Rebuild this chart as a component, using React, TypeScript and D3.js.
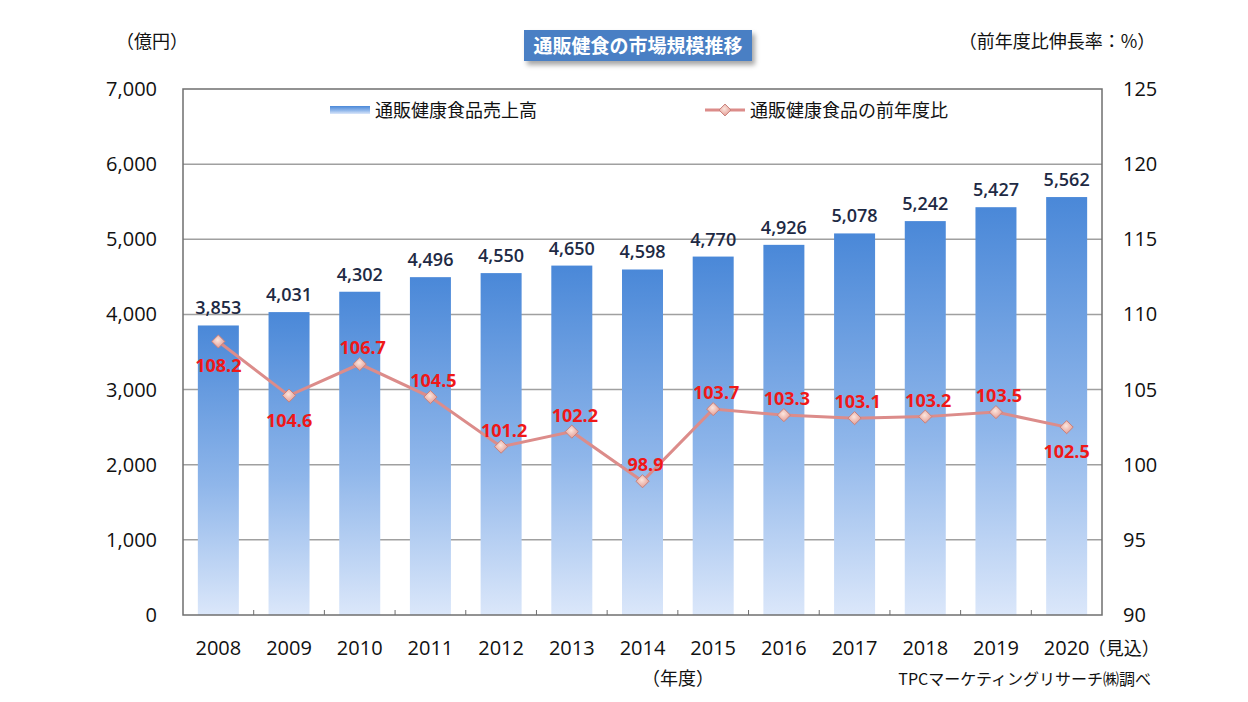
import React, { useEffect, useRef } from "react";
import * as d3 from "d3";

const years = ["2008", "2009", "2010", "2011", "2012", "2013", "2014", "2015", "2016", "2017", "2018", "2019", "2020"];
const sales = [3853, 4031, 4302, 4496, 4550, 4650, 4598, 4770, 4926, 5078, 5242, 5427, 5562];
const ratio = [108.2, 104.6, 106.7, 104.5, 101.2, 102.2, 98.9, 103.7, 103.3, 103.1, 103.2, 103.5, 102.5];
// ラベルを点の下に置くか上に置くか
const ratioLabelBelow = [true, true, false, false, false, false, false, false, false, false, false, false, true];
const leftTicks = [0, 1000, 2000, 3000, 4000, 5000, 6000, 7000];
const rightTicks = [90, 95, 100, 105, 110, 115, 120, 125];

const W = 1248;
const H = 702;
const FONT = "'Open Sans', 'Noto Sans CJK JP', sans-serif";
const JP = "'Noto Sans CJK JP', sans-serif";

export default function App() {
  const ref = useRef<SVGSVGElement>(null);

  useEffect(() => {
    const svg = d3.select(ref.current);
    svg.selectAll("*").remove();

    const margin = { top: 89, right: 146, bottom: 87, left: 183 };
    const x = d3.scaleBand<string>()
      .domain(years)
      .range([margin.left, W - margin.right])
      .paddingInner(0.42)
      .paddingOuter(0.21);
    const yL = d3.scaleLinear().domain([0, 7000]).range([H - margin.bottom, margin.top]);
    const yR = d3.scaleLinear().domain([90, 125]).range([H - margin.bottom, margin.top]);
    const cx = (i: number) => (x(years[i]) as number) + x.bandwidth() / 2;

    const defs = svg.append("defs");
    const grad = defs.append("linearGradient").attr("id", "barGrad").attr("x1", 0).attr("x2", 0).attr("y1", 0).attr("y2", 1);
    grad.append("stop").attr("offset", "0%").attr("stop-color", "#4a88d8");
    grad.append("stop").attr("offset", "55%").attr("stop-color", "#8fb6ea");
    grad.append("stop").attr("offset", "100%").attr("stop-color", "#dbe7fa");
    const f = defs.append("filter").attr("id", "shadow").attr("x", "-10%").attr("y", "-20%").attr("width", "130%").attr("height", "160%");
    f.append("feDropShadow").attr("dx", 3).attr("dy", 4).attr("stdDeviation", 2.5).attr("flood-color", "#000").attr("flood-opacity", 0.35);
    const mg = defs.append("radialGradient").attr("id", "markGrad").attr("cx", "45%").attr("cy", "40%").attr("r", "60%");
    mg.append("stop").attr("offset", "0%").attr("stop-color", "#fbe6de");
    mg.append("stop").attr("offset", "100%").attr("stop-color", "#e59c94");

    // グリッド線
    svg.append("g")
      .selectAll("line")
      .data(leftTicks.slice(1, -1))
      .join("line")
      .attr("x1", margin.left)
      .attr("x2", W - margin.right)
      .attr("y1", (d) => yL(d))
      .attr("y2", (d) => yL(d))
      .attr("stroke", "#a0a0a0")
      .attr("stroke-width", 1.5);

    // 棒グラフ
    svg.append("g")
      .selectAll("rect")
      .data(sales)
      .join("rect")
      .attr("x", (_, i) => x(years[i]) as number)
      .attr("y", (d) => yL(d))
      .attr("width", x.bandwidth())
      .attr("height", (d) => yL(0) - yL(d))
      .attr("fill", "url(#barGrad)");

    // 枠線
    svg.append("rect")
      .attr("x", margin.left)
      .attr("y", margin.top)
      .attr("width", W - margin.right - margin.left)
      .attr("height", H - margin.bottom - margin.top)
      .attr("fill", "none")
      .attr("stroke", "#6f6f6f")
      .attr("stroke-width", 1.5);

    // 下の目盛り
    svg.append("g")
      .selectAll("line")
      .data(years.slice(1))
      .join("line")
      .attr("x1", (d) => (x(d) as number) - (x.step() * x.paddingInner()) / 2)
      .attr("x2", (d) => (x(d) as number) - (x.step() * x.paddingInner()) / 2)
      .attr("y1", yL(0))
      .attr("y2", yL(0) - 5)
      .attr("stroke", "#6f6f6f");

    // 売上ラベル
    svg.append("g")
      .attr("font-family", FONT)
      .attr("font-size", 18)
      .attr("font-weight", 600)
      .attr("fill", "#1e2a44")
      .attr("text-anchor", "middle")
      .selectAll("text")
      .data(sales)
      .join("text")
      .attr("x", (_, i) => cx(i))
      .attr("y", (d) => yL(d) - 11)
      .text((d) => d3.format(",")(d));

    // 前年度比の折れ線
    const line = d3.line<number>().x((_, i) => cx(i)).y((d) => yR(d));
    svg.append("path")
      .datum(ratio)
      .attr("d", line)
      .attr("fill", "none")
      .attr("stroke", "#dc8c8a")
      .attr("stroke-width", 3);

    svg.append("g")
      .selectAll("path")
      .data(ratio)
      .join("path")
      .attr("transform", (d, i) => `translate(${cx(i)},${yR(d)})`)
      .attr("d", d3.symbol(d3.symbolDiamond2, 110))
      .attr("fill", "url(#markGrad)")
      .attr("stroke", "#c8807a")
      .attr("stroke-width", 1);

    svg.append("g")
      .attr("font-family", FONT)
      .attr("font-size", 18)
      .attr("font-weight", "bold")
      .attr("fill", "#f01818")
      .attr("text-anchor", "middle")
      .selectAll("text")
      .data(ratio)
      .join("text")
      .attr("x", (_, i) => cx(i) + (ratioLabelBelow[i] ? 0 : 3))
      .attr("y", (d, i) => yR(d) + (ratioLabelBelow[i] ? 31 : -10))
      .text((d) => d.toFixed(1));

    // 左軸
    svg.append("g")
      .attr("font-family", FONT)
      .attr("font-size", 20)
      .attr("fill", "#111")
      .attr("text-anchor", "end")
      .selectAll("text")
      .data(leftTicks)
      .join("text")
      .attr("x", 157)
      .attr("y", (d) => yL(d))
      .attr("dy", "0.35em")
      .text((d) => d3.format(",")(d));

    // 右軸
    svg.append("g")
      .attr("font-family", FONT)
      .attr("font-size", 20)
      .attr("fill", "#111")
      .attr("text-anchor", "start")
      .selectAll("text")
      .data(rightTicks)
      .join("text")
      .attr("x", 1123)
      .attr("y", (d) => yR(d))
      .attr("dy", "0.35em")
      .text((d) => d);

    // 年度
    svg.append("g")
      .attr("font-family", FONT)
      .attr("font-size", 20)
      .attr("fill", "#111")
      .attr("text-anchor", "middle")
      .selectAll("text")
      .data(years)
      .join("text")
      .attr("x", (d) => (x(d) as number) + x.bandwidth() / 2)
      .attr("y", 655)
      .text((d) => d);

    const text = (s: string, tx: number, ty: number, size: number, anchor = "start", family = JP) =>
      svg.append("text")
        .attr("x", tx)
        .attr("y", ty)
        .attr("font-family", family)
        .attr("font-size", size)
        .attr("fill", "#111")
        .attr("text-anchor", anchor)
        .text(s);

    text("（見込）", cx(12) + 21, 655, 18);
    text("（年度）", 678, 685, 18, "middle");
    text("TPCマーケティングリサーチ㈱調べ", 1151, 685, 16, "end");
    text("（億円）", 152, 48, 18, "middle");
    text("（前年度比伸長率：%）", 1057, 48, 18, "middle");

    // タイトル
    svg.append("rect")
      .attr("x", 524)
      .attr("y", 30)
      .attr("width", 228)
      .attr("height", 31)
      .attr("fill", "#4a7fc4")
      .attr("filter", "url(#shadow)");
    svg.append("text")
      .attr("x", 638)
      .attr("y", 53)
      .attr("font-family", JP)
      .attr("font-size", 19)
      .attr("font-weight", "bold")
      .attr("fill", "#fff")
      .attr("text-anchor", "middle")
      .text("通販健食の市場規模推移");

    // 凡例
    const lg = svg.append("g");
    lg.append("rect").attr("x", 330).attr("y", 106).attr("width", 40).attr("height", 8).attr("fill", "url(#barGrad)");
    lg.append("text").attr("x", 375).attr("y", 117).attr("font-family", JP).attr("font-size", 18).attr("fill", "#111").text("通販健康食品売上高");
    lg.append("line").attr("x1", 705).attr("x2", 745).attr("y1", 110).attr("y2", 110).attr("stroke", "#dc8c8a").attr("stroke-width", 3);
    lg.append("path")
      .attr("transform", "translate(725,110)")
      .attr("d", d3.symbol(d3.symbolDiamond2, 90))
      .attr("fill", "url(#markGrad)")
      .attr("stroke", "#c8807a")
      .attr("stroke-width", 1);
    lg.append("text").attr("x", 750).attr("y", 117).attr("font-family", JP).attr("font-size", 18).attr("fill", "#111").text("通販健康食品の前年度比");
  }, []);

  return (
    <svg ref={ref} width={W} height={H} style={{ position: "absolute", left: 0, top: 0, background: "#fff" }} />
  );
}
